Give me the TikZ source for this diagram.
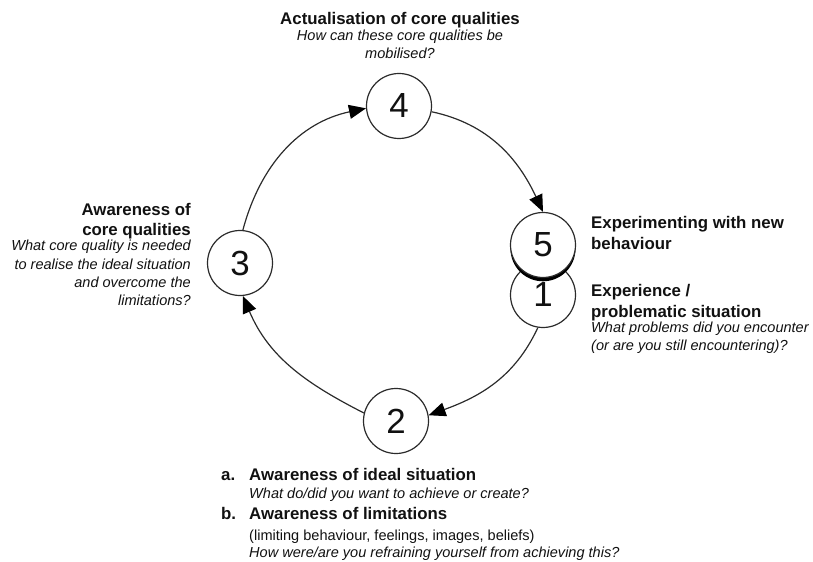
\documentclass[tikz,border=0pt]{standalone}
\usepackage{fontspec}
\setmainfont{Liberation Sans}
\usetikzlibrary{arrows.meta,shadows}
\definecolor{ink}{HTML}{111111}
\definecolor{linec}{HTML}{2B2B2B}
\begin{document}
\begin{tikzpicture}[
  x=1bp, y=1bp,
  stage/.style={circle, draw=linec, line width=1.2bp, fill=white,
    minimum size=65bp, inner sep=0pt, text=ink,
    font=\fontsize{35}{35}\selectfont},
  flow/.style={draw=linec, line width=1.2bp,
    -{Triangle[length=17bp,width=14bp,color=black]}},
  head/.style={inner sep=0pt, text=ink, font=\fontsize{16.9}{20}\selectfont\bfseries},
  ask/.style={inner sep=0pt, text=ink, font=\fontsize{14.6}{17}\selectfont\itshape},
  note/.style={inner sep=0pt, text=ink, font=\fontsize{14.6}{17}\selectfont},
]
\useasboundingbox (0,0) rectangle (813,-562);

% the five stages of the cycle
\node[stage] (c4) at (399,-106) {4};
\node[stage] (c3) at (240,-263) {3};
\node[stage] (c2) at (396,-421) {2};
\node[stage] (c1) at (543,-295) {1};
\node[stage, drop shadow={shadow xshift=0bp, shadow yshift=-3.8bp,
  fill=black, opacity=1}] (c5) at (543,-245) {5};

% connecting arcs
\draw[flow] (c3.85)  to[out=75,  in=192] (c4.184);
\draw[flow] (c4.-10) to[out=-12, in=115] (c5.north);
\draw[flow] (c1.-99) to[out=-115,in=20]  (c2.10);
\draw[flow] (c2.166) to[out=153, in=-67] (c3.-85);

% stage 4
\node[head, anchor=base] (actTitle) at (400,-24.5) {Actualisation of core qualities};
\node[ask,  anchor=base] (actQa) at (400,-40.7) {How can these core qualities be};
\node[ask,  anchor=base] (actQb) at (400,-58.3) {mobilised?};

% stage 3
\node[head, anchor=base east] (awTa) at (191,-216) {Awareness of};
\node[head, anchor=base east] (awTb) at (191,-236) {core qualities};
\node[ask,  anchor=base east] (awQa) at (191,-251) {What core quality is needed};
\node[ask,  anchor=base east] (awQb) at (191,-269.3) {to realise the ideal situation};
\node[ask,  anchor=base east] (awQc) at (191,-287.5) {and overcome the};
\node[ask,  anchor=base east] (awQd) at (191,-305.7) {limitations?};

% stage 5
\node[head, anchor=base west] (newTa) at (591,-229) {Experimenting with new};
\node[head, anchor=base west] (newTb) at (591,-249.3) {behaviour};

% stage 1
\node[head, anchor=base west] (expTa) at (591,-297) {Experience /};
\node[head, anchor=base west] (expTb) at (591,-317.5) {problematic situation};
\node[ask,  anchor=base west] (expQa) at (591,-332.7) {What problems did you encounter};
\node[ask,  anchor=base west] (expQb) at (591,-350.7) {(or are you still encountering)?};

% stage 2
\node[head, anchor=base west] (itemA) at (221,-480) {a.};
\node[head, anchor=base west] (idealT) at (249,-480) {Awareness of ideal situation};
\node[ask,  anchor=base west] (idealQ) at (249,-498.3) {What do/did you want to achieve or create?};
\node[head, anchor=base west] (itemB) at (221,-519) {b.};
\node[head, anchor=base west] (limT) at (249,-519) {Awareness of limitations};
\node[note, anchor=base west] (limN) at (249,-540) {(limiting behaviour, feelings, images, beliefs)};
\node[ask,  anchor=base west] (limQ) at (249,-557.7) {How were/are you refraining yourself from achieving this?};
\end{tikzpicture}
\end{document}
